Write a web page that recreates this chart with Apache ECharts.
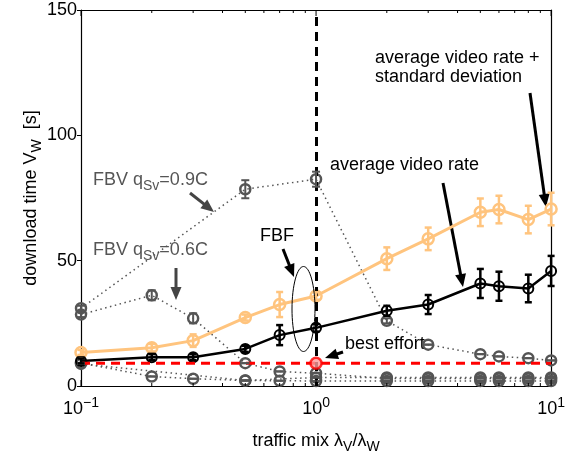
<!DOCTYPE html>
<html>
<head>
<meta charset="utf-8">
<script src="https://cdn.jsdelivr.net/npm/echarts@6/dist/echarts.min.js"></script>
<style>
html,body{margin:0;padding:0;background:#fff;}
#chart{width:568px;height:459px;}
</style>
</head>
<body>
<div id="chart"></div>
<script>
// ---- data ----
const xVals = [0.1, 0.2, 0.3, 0.5, 0.7, 1, 2, 3, 5, 6, 8, 10];
const avgRate = [10.0, 11.5, 11.5, 14.8, 20.3, 23.2, 30.0, 32.5, 40.9, 39.8, 38.9, 45.9];
const avgRateErr = [1.0, 1.2, 1.2, 1.2, 4.0, 1.5, 2.0, 3.8, 5.8, 5.8, 5.5, 6.0];
const avgStd = [13.4, 15.3, 18.1, 27.3, 32.5, 35.9, 50.8, 58.7, 69.3, 70.4, 66.4, 70.6];
const avgStdErr = [1.0, 1.5, 2.5, 1.2, 5.0, 1.5, 4.5, 4.5, 5.5, 5.5, 5.5, 6.5];
const bestEffort = [9.1, 9.1];
const bestEffortX = [0.1, 10];
const bestEffortMarkX = [1];
const bestEffortMarkY = [9.1];
const fbv09X = [0.1, 0.5, 1, 2, 3, 5, 6, 8, 10];
const fbv09Y = [31.0, 78.5, 82.5, 26.0, 16.5, 12.7, 11.8, 11.1, 10.2];
const fbv09Err = [1.0, 3.6, 3.0, 1.0, 0, 0, 0, 0, 0];
const fbv09LowY = [8.8, 2.2, 3.4, 3.4, 3.4, 3.4, 3.4, 3.4, 3.4];
const fbv06X = [0.1, 0.2, 0.3, 0.5, 0.7, 1, 2, 3, 5, 6, 8, 10];
const fbv06Y = [28.5, 36.2, 27.0, 9.1, 5.8, 5.1, 3.0, 3.0, 3.0, 3.0, 3.0, 3.0];
const fbv06Err = [1.0, 2.0, 2.0, 0, 0, 0, 0, 0, 0, 0, 0, 0];
const fbv06LowY = [9.2, 3.8, 2.9, 2.2, 2.1, 2.0, 2.0, 2.0, 2.0, 2.0, 2.0, 2.0];
const refX = 1;
const minorTickVals = [0.2, 0.3, 0.4, 0.5, 0.6, 0.7, 0.8, 0.9, 2, 3, 4, 5, 6, 7, 8, 9];
const majorTickVals = [0.1, 1, 10];
const yTicks = [0, 50, 100, 150];

const FONT = '"Liberation Sans", Arial, Helvetica, sans-serif';
const ORANGE = '#FFC47E';
const GRAY = '#555555';

function pairs(xs, ys) { return xs.map((x, i) => [x, ys[i]]); }
function triples(xs, ys, es) { return xs.map((x, i) => [x, ys[i], es[i]]); }

function errorSeries(data, color, capHalf, width) {
  return {
    type: 'custom',
    coordinateSystem: 'cartesian2d',
    z: 5,
    silent: true,
    data: data,
    renderItem: function (params, api) {
      const x = api.value(0), y = api.value(1), e = api.value(2);
      const lo = api.coord([x, y - e]);
      const hi = api.coord([x, y + e]);
      const st = { stroke: color, lineWidth: width };
      return {
        type: 'group',
        children: [
          { type: 'line', shape: { x1: lo[0], y1: lo[1], x2: hi[0], y2: hi[1] }, style: st },
          { type: 'line', shape: { x1: lo[0] - capHalf, y1: lo[1], x2: lo[0] + capHalf, y2: lo[1] }, style: st },
          { type: 'line', shape: { x1: hi[0] - capHalf, y1: hi[1], x2: hi[0] + capHalf, y2: hi[1] }, style: st }
        ]
      };
    }
  };
}

function lineSeries(data, color, width, type, symbolSize, symbolBorder, z) {
  return {
    type: 'line',
    data: data,
    z: z,
    symbol: 'circle',
    symbolSize: symbolSize,
    showSymbol: true,
    silent: true,
    animation: false,
    lineStyle: { color: color, width: width, type: type },
    itemStyle: { color: 'rgba(255,255,255,0)', borderColor: color, borderWidth: symbolBorder }
  };
}

// minor / major log ticks on top & bottom, via the axis scale
const tickSeries = {
  type: 'custom',
  coordinateSystem: 'cartesian2d',
  silent: true,
  z: 10,
  data: minorTickVals.map(v => [v, 0, 3]).concat(majorTickVals.map(v => [v, 0, 6])),
  renderItem: function (params, api) {
    const cs = params.coordSys;
    const p = api.coord([api.value(0), 0]);
    const len = api.value(2);
    const st = { stroke: '#000', lineWidth: 1 };
    return {
      type: 'group',
      children: [
        { type: 'line', shape: { x1: p[0], y1: cs.y + cs.height, x2: p[0], y2: cs.y + cs.height - len }, style: st },
        { type: 'line', shape: { x1: p[0], y1: cs.y, x2: p[0], y2: cs.y + len }, style: st }
      ]
    };
  }
};

function arrow(x1, y1, x2, y2, color) {
  const L = 13, hw = 5.5;
  const a = Math.atan2(y2 - y1, x2 - x1);
  const c = Math.cos(a), s = Math.sin(a);
  const bx = x2 - L * c, by = y2 - L * s;
  return {
    type: 'group',
    silent: true,
    children: [
      { type: 'line', shape: { x1: x1, y1: y1, x2: bx + 2 * c, y2: by + 2 * s }, style: { stroke: color, lineWidth: 3 } },
      { type: 'polygon', shape: { points: [[x2, y2], [bx + hw * s, by - hw * c], [bx - hw * s, by + hw * c]] }, style: { fill: color } }
    ]
  };
}

function label(x, y, text, color, rich) {
  return {
    type: 'text',
    x: x, y: y,
    silent: true,
    style: {
      text: text,
      fill: color,
      font: '18px ' + FONT,
      textVerticalAlign: 'top',
      rich: rich || {}
    }
  };
}

const subRich = {
  b: { fontSize: 18, fontFamily: FONT },
  s: { fontSize: 14, fontFamily: FONT, padding: [12, 0, 0, 0] }
};

const chart = echarts.init(document.getElementById('chart'), null, { renderer: 'canvas' });

const option = {
  animation: false,
  backgroundColor: '#fff',
  grid: { left: 81, right: 15, top: 10, bottom: 71, containLabel: false },
  xAxis: [
    {
      type: 'log', logBase: 10, min: 0.1, max: 10,
      position: 'bottom',
      name: '{b|traffic mix λ}{s|V}{b|/λ}{s|W}',
      nameLocation: 'middle',
      nameGap: 42,
      nameMoveOverlap: false,
      nameTextStyle: { color: '#000', fontFamily: FONT, fontSize: 18, rich: subRich },
      axisLine: { lineStyle: { color: '#000', width: 1.2 } },
      axisTick: { show: false },
      splitLine: { show: false },
      minorTick: { show: false },
      axisLabel: {
        color: '#000', margin: 4,
        formatter: function (v) {
          const e = Math.round(Math.log10(v));
          return '{b|10}{p|' + (e < 0 ? '\u2212' + (-e) : e) + '}';
        },
        rich: {
          b: { fontSize: 18, fontFamily: FONT, padding: [10, 0, 0, 0] },
          p: { fontSize: 14, fontFamily: FONT, padding: [0, 0, 2, 0] }
        }
      }
    },
    {
      type: 'log', logBase: 10, min: 0.1, max: 10,
      position: 'top',
      axisLine: { show: true, onZero: false, lineStyle: { color: '#000', width: 1.2 } },
      axisTick: { show: false },
      axisLabel: { show: false },
      splitLine: { show: false }
    }
  ],
  yAxis: [
    {
      type: 'value', min: yTicks[0], max: yTicks[yTicks.length - 1], interval: 50,
      name: '{b|download time V}{s|W}{b|  [s]}',
      nameLocation: 'middle',
      nameGap: 37,
      nameMoveOverlap: false,
      nameTextStyle: { color: '#000', fontFamily: FONT, fontSize: 18, rich: subRich },
      axisLine: { show: true, lineStyle: { color: '#000', width: 1.2 } },
      axisTick: { show: true, inside: false, length: 4, lineStyle: { color: '#000' } },
      axisLabel: { color: '#000', fontFamily: FONT, fontSize: 18, margin: 4 },
      splitLine: { show: false }
    },
    {
      type: 'value', min: yTicks[0], max: yTicks[yTicks.length - 1], interval: 50,
      position: 'right',
      axisLine: { show: true, onZero: false, lineStyle: { color: '#000', width: 1.2 } },
      axisTick: { show: false },
      axisLabel: { show: false },
      splitLine: { show: false }
    }
  ],
  series: [
    // FBV gray dotted curves
    lineSeries(pairs(fbv09X, fbv09Y), GRAY, 1.5, [1.5, 3.5], 10, 2.5, 2),
    lineSeries(pairs(fbv09X, fbv09LowY), GRAY, 1.5, [1.5, 3.5], 10, 2.5, 2),
    lineSeries(pairs(fbv06X, fbv06Y), GRAY, 1.5, [1.5, 3.5], 10, 2.5, 2),
    lineSeries(pairs(fbv06X, fbv06LowY), GRAY, 1.5, [1.5, 3.5], 10, 2.5, 2),
    errorSeries(triples(fbv09X, fbv09Y, fbv09Err), GRAY, 4, 2),
    errorSeries(triples(fbv09X, fbv09LowY, fbv09X.map(() => 0)), GRAY, 4, 2),
    errorSeries(triples(fbv06X, fbv06Y, fbv06Err), GRAY, 4, 2),
    errorSeries(triples(fbv06X, fbv06LowY, fbv06X.map(() => 0)), GRAY, 4, 2),
    // best effort
    {
      type: 'line', data: pairs(bestEffortX, bestEffort), z: 4, silent: true,
      showSymbol: false, symbol: 'none',
      lineStyle: { color: '#ff0000', width: 3, type: [9, 6] },
      markLine: {
        silent: true, symbol: 'none', label: { show: false },
        lineStyle: { color: '#000', width: 3, type: [9, 6] },
        data: [{ xAxis: refX }]
      }
    },
    {
      type: 'scatter', data: pairs(bestEffortMarkX, bestEffortMarkY), z: 6, silent: true,
      symbol: 'circle', symbolSize: 11,
      itemStyle: { color: '#ff9a9a', borderColor: '#ff0000', borderWidth: 2.5 }
    },
    // average video rate + std (orange)
    lineSeries(pairs(xVals, avgStd), ORANGE, 3, 'solid', 11, 2.5, 3),
    errorSeries(triples(xVals, avgStd, avgStdErr), ORANGE, 3.5, 2.5),
    // average video rate (black)
    lineSeries(pairs(xVals, avgRate), '#000', 2.5, 'solid', 10, 2, 3),
    errorSeries(triples(xVals, avgRate, avgRateErr), '#000', 3.5, 2.5),
    tickSeries
  ],
  graphic: [
    { type: 'ellipse', silent: true, shape: { cx: 303.5, cy: 309, rx: 11.5, ry: 42.5 }, style: { fill: 'none', stroke: '#000', lineWidth: 1 }, z: 20 },
    label(93, 167, '{b|FBV q}{s|Sv}{b|=0.9C}', GRAY, subRich),
    label(93, 237, '{b|FBV q}{s|Sv}{b|=0.6C}', GRAY, subRich),
    label(260, 227, 'FBF', '#000'),
    label(330, 156, 'average video rate', '#000'),
    label(375, 49, 'average video rate +', '#000'),
    label(375, 68, 'standard deviation', '#000'),
    label(345, 335, 'best effort', '#000'),
    arrow(190, 193, 214, 212, '#444'),
    arrow(176, 268, 176, 300, '#444'),
    arrow(283, 249, 294, 277, '#000'),
    arrow(443, 183, 463, 287, '#000'),
    arrow(530, 93, 546, 207, '#000'),
    arrow(343, 352, 325, 358, '#000')
  ]
};

chart.setOption(option);
</script>
</body>
</html>
